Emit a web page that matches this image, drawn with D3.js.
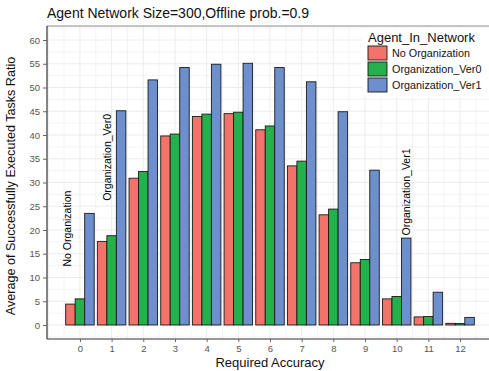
<!DOCTYPE html>
<html lang="en">
<head>
<meta charset="UTF-8">
<title>Agent Network Size=300</title>
<script src="https://d3js.org/d3.v7.min.js"></script>
<style>
  body { margin: 0; background: #fff; }
  text { font-family: "Liberation Sans", Arial, sans-serif; }
</style>
</head>
<body>
<svg id="chart" width="489" height="371"></svg>
<script>
// data
const accuracy = [0, 1, 2, 3, 4, 5, 6, 7, 8, 9, 10, 11, 12];
const series = ["No Organization", "Organization_Ver0", "Organization_Ver1"];
const noOrg = [4.4, 17.6, 30.9, 39.8, 43.9, 44.5, 41.1, 33.5, 23.2, 13.1, 5.5, 1.7, 0.35];
const orgVer0 = [5.5, 18.8, 32.3, 40.2, 44.4, 44.8, 41.9, 34.5, 24.4, 13.8, 6.0, 1.8, 0.3];
const orgVer1 = [23.5, 45.1, 51.6, 54.2, 54.9, 55.1, 54.2, 51.2, 44.9, 32.6, 18.3, 6.9, 1.6];
const yTicks = [0, 5, 10, 15, 20, 25, 30, 35, 40, 45, 50, 55, 60];
const colors = ["#F3736B", "#24B04B", "#6D8FCD"];

// text labels placed on the plot (data units)
const noteText = ["No Organization", "Organization_Ver0", "Organization_Ver1"];
const noteX = [-0.41, 0.86, 10.28];
const noteY = [20.3, 35.3, 28.0];

const values = [noOrg, orgVer0, orgVer1];
const rows = [];
accuracy.forEach((a, i) => {
  series.forEach((s, j) => rows.push({ acc: a, series: s, value: values[j][i] }));
});

const svg = d3.select("#chart");
const pLeft = 47, pRight = 493, pTop = 26, pBottom = 339;

const x = d3.scaleLinear().domain([-1.04, 13.04]).range([pLeft, pRight]);
const y = d3.scaleLinear().domain([-2.95, 62.95]).range([pBottom, pTop]);
const inner = d3.scaleBand().domain(series).range([-0.45, 0.45]);
const color = d3.scaleOrdinal().domain(series).range(colors);

// panel grid
const grid = svg.append("g");
const minorY = d3.range(-2.5, 63, 2.5);
grid.selectAll("line.hy").data(minorY).enter().append("line")
  .attr("x1", pLeft).attr("x2", pRight)
  .attr("y1", d => y(d)).attr("y2", d => y(d))
  .attr("stroke", "#ececec")
  .attr("stroke-width", d => d % 5 === 0 ? 1 : 0.6);
const gridX = d3.range(-1, 13.1, 0.5);
grid.selectAll("line.vx").data(gridX).enter().append("line")
  .attr("y1", pTop).attr("y2", pBottom)
  .attr("x1", d => x(d)).attr("x2", d => x(d))
  .attr("stroke", "#ececec")
  .attr("stroke-width", d => Number.isInteger(d) ? 1 : 0.6);

// bars
svg.append("g").selectAll("rect").data(rows).enter().append("rect")
  .attr("x", d => x(d.acc + inner(d.series)))
  .attr("width", x(inner.bandwidth()) - x(0))
  .attr("y", d => y(d.value))
  .attr("height", d => y(0) - y(d.value))
  .attr("fill", d => color(d.series))
  .attr("stroke", "#1a1a1a")
  .attr("stroke-width", 0.9);

// rotated notes
svg.append("g").selectAll("text").data(noteText).enter().append("text")
  .attr("transform", (d, i) => `translate(${x(noteX[i]) + 4},${y(noteY[i])}) rotate(-90)`)
  .attr("text-anchor", "middle")
  .attr("font-size", 10.5)
  .attr("fill", "#000")
  .text(d => d);

// panel border
svg.append("line").attr("x1", pLeft).attr("x2", pRight).attr("y1", pTop).attr("y2", pTop)
  .attr("stroke", "#8a8a8a").attr("stroke-width", 1);

// axes
const yAxis = svg.append("g")
  .attr("transform", `translate(${pLeft},0)`)
  .call(d3.axisLeft(y).tickValues(yTicks).tickSize(4).tickPadding(3));
const xAxis = svg.append("g")
  .attr("transform", `translate(0,${pBottom})`)
  .call(d3.axisBottom(x).tickValues(accuracy).tickSize(3).tickPadding(3));
[yAxis, xAxis].forEach(g => {
  g.select(".domain").attr("stroke", "#333").attr("stroke-width", 1.2);
  g.selectAll(".tick line").attr("stroke", "#666");
  g.selectAll(".tick text").attr("fill", "#555").attr("font-size", 9.5)
    .style("font-family", "Liberation Sans, Arial, sans-serif");
});
yAxis.select(".domain").attr("d", `M0,${pTop}V${pBottom}`);
xAxis.select(".domain").attr("d", `M${pLeft},0H${pRight}`);

// titles
svg.append("text").attr("x", pLeft).attr("y", 18)
  .attr("font-size", 14).attr("fill", "#111")
  .text("Agent Network Size=300,Offline prob.=0.9");
svg.append("text").attr("x", 270).attr("y", 367)
  .attr("text-anchor", "middle").attr("font-size", 13).attr("fill", "#111")
  .text("Required Accuracy");
svg.append("text")
  .attr("transform", `translate(15,${186}) rotate(-90)`)
  .attr("text-anchor", "middle").attr("font-size", 12.6).attr("fill", "#111")
  .text("Average of Successfully Executed Tasks Ratio");

// legend
const legend = svg.append("g");
legend.append("rect").attr("x", 362).attr("y", 28).attr("width", 130).attr("height", 69)
  .attr("fill", "#fff");
legend.append("text").attr("x", 368).attr("y", 42)
  .attr("font-size", 13).attr("fill", "#111").text("Agent_In_Network");
const item = legend.selectAll("g.item").data(series).enter().append("g")
  .attr("transform", (d, i) => `translate(368,${46 + i * 16})`);
item.append("rect").attr("width", 19).attr("height", 14)
  .attr("fill", d => color(d)).attr("stroke", "#1a1a1a").attr("stroke-width", 0.9);
item.append("text").attr("x", 24).attr("y", 11)
  .attr("font-size", 10.8).attr("fill", "#111").text(d => d);
</script>
</body>
</html>
